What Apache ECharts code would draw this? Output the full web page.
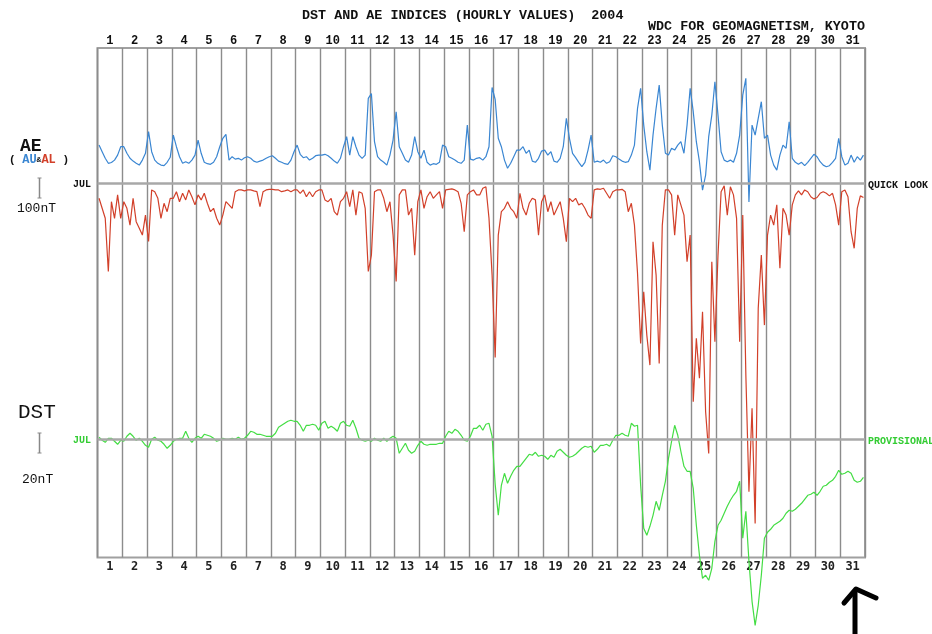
<!DOCTYPE html>
<html>
<head>
<meta charset="utf-8">
<script src="https://cdn.jsdelivr.net/npm/echarts@6/dist/echarts.min.js"></script>
<style>
html,body{margin:0;padding:0;background:#fff;}
#chart{width:932px;height:634px;}
</style>
</head>
<body>
<div id="chart"></div>
<script>
// Day labels (July 2004)
const dayLabels = ['1','2','3','4','5','6','7','8','9','10','11','12','13','14','15','16','17','18','19','20','21','22','23','24','25','26','27','28','29','30','31'];

// 3-hourly samples (8 per day), nT
const auValues = [
 192,159,126,101,105,117,142,184,
 184,151,126,112,101,92,117,151,
 259,159,117,101,92,89,106,131,
 242,184,134,101,109,101,117,142,
 217,151,106,99,96,106,134,184,
 226,246,117,134,122,126,117,129,
 134,126,112,106,112,117,126,134,
 139,126,112,106,99,96,117,159,
 192,146,129,134,117,126,139,142,
 142,146,139,126,112,101,126,184,
 234,142,234,184,142,126,142,426,
 450,209,134,117,106,92,142,217,
 359,184,151,117,106,142,234,159,
 126,167,106,92,99,96,106,192,
 184,134,126,117,106,101,117,292,
 122,117,126,129,117,134,184,480,
 420,226,184,117,76,101,134,167,
 167,184,151,167,112,106,126,162,
 167,142,159,112,106,126,184,326,
 226,151,129,106,84,106,167,242,
 106,112,106,117,101,109,139,134,
 122,112,106,109,142,192,376,476,
 292,159,67,242,376,492,292,151,
 142,176,167,192,209,151,292,476,
 359,209,109,-33,42,234,342,509,
 342,159,117,109,117,106,151,242,
 442,526,-92,292,242,326,409,226,
 242,142,92,67,142,192,176,309,
 126,106,96,106,89,106,126,146,
 134,109,92,84,89,106,126,226,
 134,92,101,142,106,134,117,142
];

const alValues = [
 -74,-124,-174,-440,-91,-174,-57,-174,
 -91,-124,-208,-74,-191,-224,-258,-158,
 -290,-32,-41,-74,-174,-99,-141,-74,
 -74,-41,-91,-49,-82,-32,-66,-107,
 -57,-82,-49,-99,-141,-124,-174,-208,
 -158,-91,-107,-124,-41,-32,-32,-37,
 -32,-32,-37,-41,-116,-41,-32,-29,
 -29,-32,-32,-41,-37,-32,-41,-32,
 -32,-49,-32,-66,-41,-66,-41,-32,
 -32,-82,-91,-74,-141,-158,-91,-74,
 -41,-116,-32,-158,-41,-49,-124,-440,
 -358,-41,-32,-32,-74,-141,-91,-258,
 -490,-57,-32,-32,-158,-124,-358,-91,
 -32,-124,-66,-41,-74,-57,-41,-124,
 -32,-29,-27,-32,-41,-99,-241,-57,
 -41,-32,-57,-57,-24,-16,-174,-458,
 -870,-258,-141,-124,-91,-124,-141,-174,
 -49,-124,-158,-99,-74,-82,-258,-91,
 -57,-141,-91,-158,-124,-91,-174,-291,
 -74,-91,-74,-107,-99,-124,-158,-174,
 -32,-27,-29,-24,-49,-74,-41,-32,
 -32,-29,-41,-141,-99,-208,-450,-800,
 -541,-758,-908,-291,-458,-900,-208,-32,
 -32,-57,-258,-57,-107,-158,-391,-258,
 -1091,-774,-974,-641,-1141,-1350,-391,-791,
 -358,-41,-12,-158,-16,-57,-174,-791,
 -158,-958,-1541,-1124,-1700,-624,-358,-708,
 -258,-158,-208,-107,-424,-124,-158,-258,
 -107,-57,-37,-57,-32,-41,-66,-77,
 -70,-49,-41,-49,-62,-49,-107,-208,
 -41,-32,-66,-241,-324,-124,-62,-70
];

const dstValues = [
 2,-1,-3,1,1,-2,-5,-1,
 -2,3,6,3,-1,1,-2,-6,
 -8,0,2,-1,-2,-5,-9,-6,
 -2,0,1,1,8,1,-3,1,
 3,1,5,4,3,1,-2,-1,
 1,0,0,1,0,2,0,1,
 4,8,7,5,5,4,3,3,
 3,6,12,14,16,18,19,18,
 18,14,8,14,14,15,14,9,
 16,18,11,13,11,8,16,18,
 14,13,19,11,1,-1,-2,-1,
 -2,1,-1,-2,1,-2,1,3,
 1,-14,-9,-4,-11,-14,-12,-6,
 -2,-5,-6,-5,-5,-5,-4,-4,
 3,8,6,10,8,4,-1,-2,
 3,11,11,14,9,15,16,3,
 -45,-76,-46,-34,-44,-37,-31,-27,
 -27,-23,-19,-15,-16,-13,-17,-16,
 -17,-20,-16,-18,-12,-10,-13,-16,
 -18,-17,-15,-12,-9,-7,-8,-7,
 -13,-10,-6,-6,-5,-7,-1,4,
 4,6,4,3,16,13,14,-46,
 -89,-96,-87,-76,-62,-71,-56,-42,
 -19,-2,14,4,-12,-27,-32,-32,
 -49,-86,-116,-139,-136,-141,-129,-102,
 -86,-81,-74,-67,-61,-56,-52,-42,
 -99,-72,-122,-162,-186,-166,-136,-99,
 -93,-90,-86,-84,-82,-79,-74,-71,
 -72,-70,-67,-64,-60,-56,-55,-53,
 -56,-52,-47,-46,-43,-41,-37,-31,
 -35,-34,-32,-34,-41,-43,-42,-38
];

const SAMPLES_PER_DAY = 8;
function toSeries(arr) {
  return arr.map((v, i) => {
    const d = Math.floor(i / SAMPLES_PER_DAY);
    const k = i % SAMPLES_PER_DAY;
    return [d + (k * 3 + 1.5) / 24, v];
  });
}

const G = { left: 97.5, top: 48, width: 767.5, height: 509.5 };
const mono = 'Liberation Mono';
const gridCol = '#8c8c8c';

const chart = echarts.init(document.getElementById('chart'), null, { renderer: 'canvas' });
chart.setOption({
  animation: false,
  backgroundColor: '#ffffff',
  grid: [
    Object.assign({ show: true, borderColor: '#a0a0a0', borderWidth: 2, backgroundColor: 'transparent' }, G),
    Object.assign({}, G),
    Object.assign({}, G)
  ],
  xAxis: [
    { type: 'category', gridIndex: 0, position: 'top', data: dayLabels, boundaryGap: true,
      axisLine: { show: false }, axisTick: { show: false },
      axisLabel: { interval: 0, margin: 1, fontFamily: mono, fontWeight: 'bold', fontSize: 12, color: '#111' },
      splitLine: { show: true, interval: 0, lineStyle: { color: gridCol, width: 1.4 } } },
    { type: 'category', gridIndex: 0, position: 'bottom', data: dayLabels, boundaryGap: true,
      axisLine: { show: false }, axisTick: { show: false },
      axisLabel: { interval: 0, margin: 3, fontFamily: 'DejaVu Sans Mono', fontWeight: 'bold', fontSize: 12, color: '#222' },
      splitLine: { show: false } },
    { type: 'value', gridIndex: 1, min: 0, max: 31, show: false },
    { type: 'value', gridIndex: 2, min: 0, max: 31, show: false }
  ],
  yAxis: [
    { type: 'value', gridIndex: 0, min: 0, max: 1, show: false },
    { type: 'value', gridIndex: 1, min: -1870, max: 677.5, show: false },
    { type: 'value', gridIndex: 2, min: -118.2, max: 391.3, show: false }
  ],
  series: [
    { name: 'AU', type: 'line', xAxisIndex: 2, yAxisIndex: 1, data: toSeries(auValues),
      symbol: 'none', clip: false, z: 3,
      lineStyle: { color: '#3a86d2', width: 1.2 },
      markLine: { silent: true, symbol: ['none', 'none'], label: { show: false },
        lineStyle: { color: '#a8a8a8', width: 2.5, type: 'solid' }, data: [{ yAxis: 0 }] } },
    { name: 'AL', type: 'line', xAxisIndex: 2, yAxisIndex: 1, data: toSeries(alValues),
      symbol: 'none', clip: false, z: 3,
      lineStyle: { color: '#d2402a', width: 1.2 } },
    { name: 'DST', type: 'line', xAxisIndex: 3, yAxisIndex: 2, data: toSeries(dstValues),
      symbol: 'none', clip: false, z: 3,
      lineStyle: { color: '#44dd44', width: 1.2 },
      markLine: { silent: true, symbol: ['none', 'none'], label: { show: false },
        lineStyle: { color: '#a8a8a8', width: 2.5, type: 'solid' }, data: [{ yAxis: 0 }] } }
  ],
  graphic: [
    { type: 'text', left: 302, top: 9, style: { text: 'DST AND AE INDICES (HOURLY VALUES)  2004', font: 'bold 13.4px "Liberation Mono"', fill: '#111' } },
    { type: 'text', left: 648, top: 20, style: { text: 'WDC FOR GEOMAGNETISM, KYOTO', font: 'bold 13.4px "Liberation Mono"', fill: '#111' } },
    { type: 'text', left: 20, top: 137, style: { text: 'AE', font: 'bold 18px "Liberation Mono"', fill: '#111' } },
    { type: 'text', left: 9, top: 154, style: {
        text: '( {a|AU}{s|&}{b|AL} )', font: 'bold 11px "Liberation Mono"', fill: '#111',
        rich: { a: { fill: '#3a86d2', font: 'bold 12px "Liberation Mono"' },
                b: { fill: '#d2402a', font: 'bold 12px "Liberation Mono"' },
                s: { fill: '#111', font: 'bold 8px "Liberation Mono"' } } } },
    { type: 'text', left: 17, top: 202, style: { text: '100nT', font: '13px "Liberation Mono"', fill: '#111' } },
    { type: 'text', left: 18, top: 402, style: { text: 'DST', font: '21px "Liberation Mono"', fill: '#111' } },
    { type: 'text', left: 22, top: 473, style: { text: '20nT', font: '13px "Liberation Mono"', fill: '#111' } },
    { type: 'text', left: 73, top: 179, style: { text: 'JUL', font: 'bold 10px "Liberation Mono"', fill: '#111' } },
    { type: 'text', left: 868, top: 180, style: { text: 'QUICK LOOK', font: 'bold 10px "Liberation Mono"', fill: '#111' } },
    { type: 'text', left: 73, top: 435, style: { text: 'JUL', font: 'bold 10px "Liberation Mono"', fill: '#33cc33' } },
    { type: 'text', left: 868, top: 436, style: { text: 'PROVISIONAL', font: 'bold 10px "Liberation Mono"', fill: '#33cc33' } },
    // scale bars
    { type: 'line', shape: { x1: 39.5, y1: 178, x2: 39.5, y2: 198 }, style: { stroke: '#888', lineWidth: 1.5 } },
    { type: 'line', shape: { x1: 37.5, y1: 178, x2: 41.5, y2: 178 }, style: { stroke: '#888', lineWidth: 1 } },
    { type: 'line', shape: { x1: 37.5, y1: 198, x2: 41.5, y2: 198 }, style: { stroke: '#888', lineWidth: 1 } },
    { type: 'line', shape: { x1: 39.5, y1: 433, x2: 39.5, y2: 453 }, style: { stroke: '#888', lineWidth: 1.5 } },
    { type: 'line', shape: { x1: 37.5, y1: 433, x2: 41.5, y2: 433 }, style: { stroke: '#888', lineWidth: 1 } },
    { type: 'line', shape: { x1: 37.5, y1: 453, x2: 41.5, y2: 453 }, style: { stroke: '#888', lineWidth: 1 } },
    // hand-drawn arrow annotation
    { type: 'polyline', shape: { points: [[855, 634], [855, 592]] }, style: { stroke: '#000', lineWidth: 5, lineCap: 'round', fill: null } },
    { type: 'polyline', shape: { points: [[844, 603], [856, 589], [876, 598]] }, style: { stroke: '#000', lineWidth: 5, lineCap: 'round', lineJoin: 'round', fill: null } }
  ]
});
</script>
</body>
</html>
